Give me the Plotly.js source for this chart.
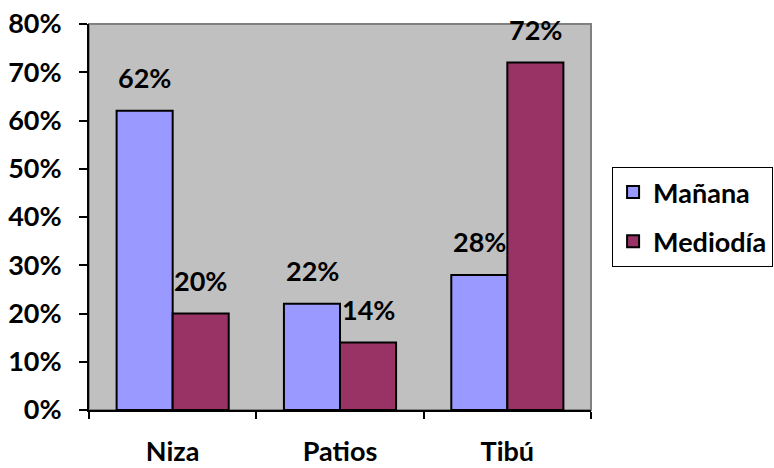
<!DOCTYPE html>
<html>
<head>
<meta charset="utf-8">
<script src="https://cdn.plot.ly/plotly-3.0.1.min.js"></script>
<style>html,body{margin:0;padding:0;background:#fff;}#chart{width:774px;height:468px;}</style>
</head>
<body>
<div id="chart"></div>
<script>
const categories = ["Niza", "Patios", "Tibú"];
const seriesNames = ["Mañana", "Mediodía"];
const manana = [0.62, 0.22, 0.28];
const mediodia = [0.20, 0.14, 0.72];
const yTickVals = [0, 0.1, 0.2, 0.3, 0.4, 0.5, 0.6, 0.7, 0.8];

const FONT = {family: "Lato, 'DejaVu Sans', sans-serif", size: 27, color: "#000", weight: "bold"};
const colors = ["#9999FF", "#993366"];
const seriesValues = [manana, mediodia];

const traces = seriesValues.map((vals, i) => ({
  type: "bar",
  name: seriesNames[i],
  x: categories,
  y: vals,
  legendgroup: "g" + i,
  marker: {color: colors[i], line: {color: "#000", width: 2}},
  hoverinfo: "none"
}));

const annotations = [];
seriesValues.forEach((vals, i) => {
  vals.forEach((v, j) => {
    annotations.push({
      x: categories[j], y: v, xref: "x", yref: "y",
      text: Math.round(v * 100) + "%",
      showarrow: false,
      xshift: i === 0 ? -28 : 28,
      yshift: 33,
      yanchor: "middle",
      font: FONT
    });
  });
});

const layout = {
  width: 774, height: 468,
  margin: {l: 89, r: 183, t: 24, b: 58, autoexpand: false},
  paper_bgcolor: "#ffffff",
  plot_bgcolor: "#C0C0C0",
  font: FONT,
  barmode: "group",
  bargap: 0.33,
  bargroupgap: 0,
  showlegend: true,
  legend: {
    x: 1.042, xanchor: "left", y: 0.5, yanchor: "middle",
    bgcolor: "#ffffff", bordercolor: "#000", borderwidth: 1,
    font: FONT, traceorder: "grouped", tracegroupgap: 11
  },
  xaxis: {
    type: "category",
    showgrid: false, zeroline: false,
    showline: true, linecolor: "#000", linewidth: 2,
    ticks: "outside", tickson: "boundaries", ticklen: 7, tickwidth: 2, tickcolor: "#000",
    ticklabelstandoff: 17,
    tickfont: FONT,
    fixedrange: true
  },
  yaxis: {
    range: [0, 0.8],
    tickvals: yTickVals,
    tickformat: ".0%",
    showgrid: false, zeroline: false,
    showline: true, linecolor: "#000", linewidth: 2,
    ticks: "outside", ticklen: 8, tickwidth: 2, tickcolor: "#000",
    ticklabelstandoff: 12,
    tickfont: FONT,
    fixedrange: true
  },
  shapes: [{
    type: "rect", xref: "paper", yref: "paper", x0: 0, x1: 1, y0: 0, y1: 1,
    line: {color: "#808080", width: 2}, layer: "below"
  }],
  annotations: annotations
};

Plotly.newPlot("chart", traces, layout, {displayModeBar: false, staticPlot: true});
</script>
</body>
</html>
